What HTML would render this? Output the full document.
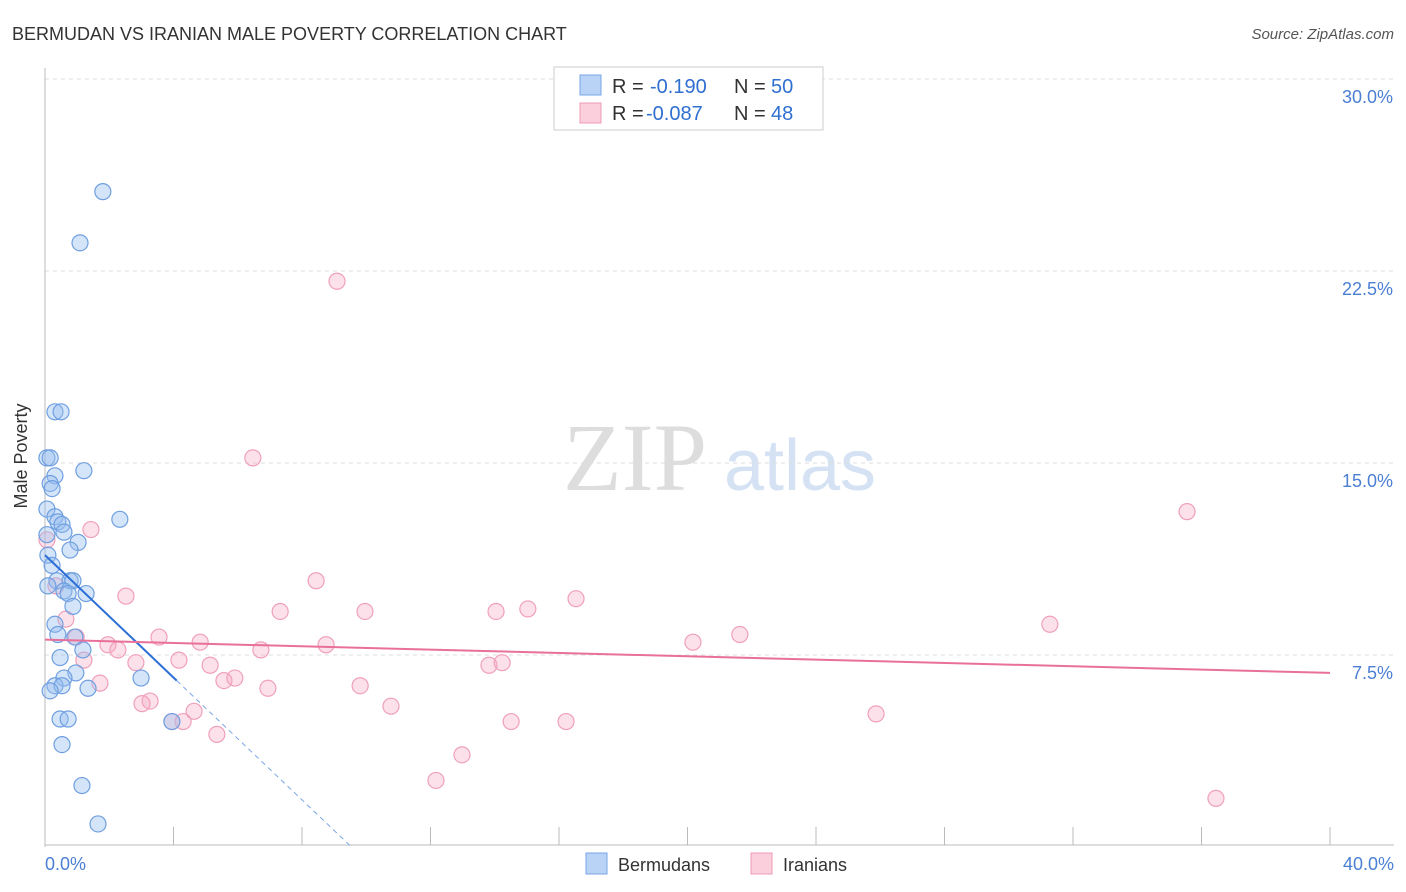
<!DOCTYPE html>
<html><head><meta charset="utf-8"><style>
body{margin:0;background:#fff;font-family:"Liberation Sans",sans-serif;}
svg{display:block}
</style></head><body>
<svg width="1406" height="892" xmlns="http://www.w3.org/2000/svg">
<text x="12" y="40" font-size="18" fill="#333">BERMUDAN VS IRANIAN MALE POVERTY CORRELATION CHART</text>
<text x="1394" y="39" font-size="15" fill="#555" font-style="italic" text-anchor="end">Source: ZipAtlas.com</text>
<text x="635" y="490" font-size="96" fill="#ddd" font-family="Liberation Serif,serif" text-anchor="middle">ZIP</text>
<text x="800" y="490" font-size="72" fill="#d4e2f4" text-anchor="middle">atlas</text>
<g id="grid"></g>
<line x1="45" y1="68" x2="45" y2="847" stroke="#bbb"/>
<line x1="45" y1="845" x2="1394" y2="845" stroke="#bbb"/>
<text x="27" y="456" font-size="18" fill="#333" text-anchor="middle" transform="rotate(-90 27 456)">Male Poverty</text>
<text x="45" y="870" font-size="18" fill="#4a7fd4">0.0%</text>
<text x="1394" y="870" font-size="18" fill="#4a7fd4" text-anchor="end">40.0%</text>
<g id="marks"></g>
<g>
<rect x="554" y="67" width="269" height="63" fill="#fff" stroke="#ccc"/>
<rect x="580" y="75" width="21" height="20" fill="#b8d3f5" stroke="#7aa6e6"/>
<rect x="580" y="103" width="21" height="20" fill="#fbcfdc" stroke="#f09ab5"/>
<text x="612" y="93" font-size="20" fill="#333">R =</text>
<text x="650" y="93" font-size="20" fill="#2f6fd0">-0.190</text>
<text x="734" y="93" font-size="20" fill="#333">N =</text>
<text x="771" y="93" font-size="20" fill="#2f6fd0">50</text>
<text x="612" y="120" font-size="20" fill="#333">R =</text>
<text x="646" y="120" font-size="20" fill="#2f6fd0">-0.087</text>
<text x="734" y="120" font-size="20" fill="#333">N =</text>
<text x="771" y="120" font-size="20" fill="#2f6fd0">48</text>
</g>
<g>
<rect x="586" y="853" width="21" height="21" fill="#b8d3f5" stroke="#7aa6e6"/>
<text x="618" y="871" font-size="18" fill="#333">Bermudans</text>
<rect x="751" y="853" width="21" height="21" fill="#fbcfdc" stroke="#f09ab5"/>
<text x="783" y="871" font-size="18" fill="#333">Iranians</text>
</g>
</svg>
<script>
const yTicks=[7.5,15,22.5,30];
const xTicks=[0,4,8,12,16,20,24,28,32,36,40];
const blueX=[1.8,1.09,0.31,0.5,0.06,0.16,1.21,0.31,0.16,0.22,0.06,0.31,2.33,0.4,0.53,0.59,0.06,1.03,0.78,0.09,0.22,0.37,0.78,0.87,0.59,1.28,0.72,0.09,0.87,0.31,0.4,0.93,1.18,0.47,0.96,0.59,2.99,0.31,0.53,1.34,0.16,0.47,0.72,0.53,1.15,1.65,3.95];
const blueY=[25.6,23.6,17.0,17.0,15.2,15.2,14.7,14.5,14.2,14.0,13.2,12.9,12.8,12.7,12.6,12.3,12.2,11.9,11.6,11.4,11.0,10.4,10.4,10.4,10.0,9.9,9.9,10.2,9.4,8.7,8.3,8.2,7.7,7.4,6.8,6.6,6.6,6.3,6.3,6.2,6.1,5.0,5.0,4.0,2.4,0.9,4.9];
const pinkX=[9.09,6.47,35.55,1.43,0.06,0.34,8.44,2.52,16.53,15.03,9.96,14.04,7.32,0.65,31.28,21.63,3.55,4.83,0.97,1.96,20.17,8.75,2.27,6.72,1.21,2.83,4.17,5.14,13.82,14.23,5.57,5.91,1.71,6.94,9.81,3.27,3.02,4.64,10.77,25.87,3.95,4.3,14.51,16.22,5.35,12.98,12.17,36.45];
const pinkY=[22.1,15.2,13.1,12.4,12.0,10.2,10.4,9.8,9.7,9.3,9.2,9.2,9.2,8.9,8.7,8.3,8.2,8.0,8.2,7.9,8.0,7.9,7.7,7.7,7.3,7.2,7.3,7.1,7.1,7.2,6.5,6.6,6.4,6.2,6.3,5.7,5.6,5.3,5.5,5.2,4.9,4.9,4.9,4.9,4.4,3.6,2.6,1.9];
const blueTrend=[0,11.4,4.1,6.5,9.5,0.05];
const pinkTrend=[0,8.1,40,6.8];
const NS="http://www.w3.org/2000/svg";
const xs=v=>45+v*32.125, ys=v=>847-v*25.6;
function mk(t,a,p){const e=document.createElementNS(NS,t);for(const k in a)e.setAttribute(k,a[k]);p.appendChild(e);return e;}
const grid=document.getElementById('grid'),marks=document.getElementById('marks');
yTicks.forEach(v=>{
 const l=mk('line',{x1:45,x2:1394,y1:ys(v),y2:ys(v),stroke:'#ddd','stroke-dasharray':'4,4'},grid);
 
 
 const t=mk('text',{x:1393,y:ys(v)+24,'font-size':18,fill:'#4a7fd4','text-anchor':'end'},grid);
 t.textContent=v.toFixed(1)+'%';
 
 
});
xTicks.forEach(v=>{
 const l=mk('line',{x1:xs(v),x2:xs(v),y1:827,y2:845,stroke:'#bbb'},grid);
 
 
});
pinkX.forEach((x,i)=>{
 const c=mk('circle',{cx:xs(x),cy:ys(pinkY[i]),r:8,fill:'rgba(246,170,195,0.35)',stroke:'#f0a0bb','stroke-width':1.2},marks);
 
 
});
blueX.forEach((x,i)=>{
 const c=mk('circle',{cx:xs(x),cy:ys(blueY[i]),r:8,fill:'rgba(150,190,240,0.4)',stroke:'#6f9fe0','stroke-width':1.2},marks);
 
 
});
let l=mk('line',{x1:xs(blueTrend[0]),y1:ys(blueTrend[1]),x2:xs(blueTrend[2]),y2:ys(blueTrend[3]),stroke:'#2c6fd6','stroke-width':2},marks);


l=mk('line',{x1:xs(blueTrend[2]),y1:ys(blueTrend[3]),x2:xs(blueTrend[4]),y2:ys(blueTrend[5]),stroke:'#7aa6e6','stroke-width':1,'stroke-dasharray':'5,4'},marks);


l=mk('line',{x1:xs(pinkTrend[0]),y1:ys(pinkTrend[1]),x2:xs(pinkTrend[2]),y2:ys(pinkTrend[3]),stroke:'#e8709a','stroke-width':2},marks);


</script>
</body></html>
